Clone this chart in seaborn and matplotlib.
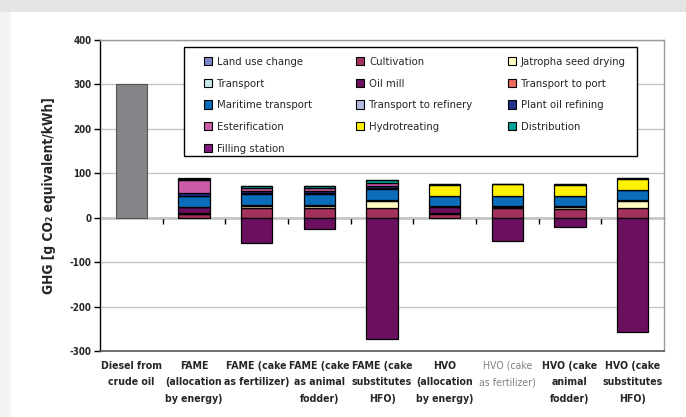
import numpy as np
import pandas as pd
import matplotlib
matplotlib.use("Agg")
import matplotlib.pyplot as plt
from matplotlib import font_manager
from matplotlib.patches import Patch, Rectangle
import seaborn as sns

categories = ["Diesel from\ncrude oil", "FAME\n(allocation\nby energy)", "FAME (cake\nas fertilizer)",
              "FAME (cake\nas animal\nfodder)", "FAME (cake\nsubstitutes\nHFO)", "HVO\n(allocation\nby energy)",
              "HVO (cake\nas fertilizer)", "HVO (cake\nanimal\nfodder)", "HVO (cake\nsubstitutes\nHFO)"]

diesel             = [300, 0, 0, 0, 0, 0, 0, 0, 0]
land_use_change    = [0, 0, 0, 0, 0, 0, 0, 0, 0]
cultivation        = [0, 8, 21, 21, 21, 9, 21, 20, 21]
seed_drying        = [0, 1, 5, 6, 17, 1, 4, 4, 17]
transport          = [0, 1, 1, 1, 1, 1, 1, 1, 1]
oil_mill           = [0, 13, -57, -26, -273, 14, -53, -22, -257]
transport_port     = [0, 1, 1, 1, 1, 1, 1, 1, 1]
maritime           = [0, 24, 26, 25, 25, 22, 22, 22, 22]
transport_refinery = [0, 1, 1, 1, 1, 1, 1, 1, 1]
plant_oil_refining = [0, 6, 5, 5, 6, 0, 0, 0, 0]
esterification     = [0, 29, 7, 7, 7, 0, 0, 0, 0]
hydrotreating      = [0, 0, 0, 0, 0, 25, 25, 25, 25]
distribution       = [0, 4, 4, 4, 5, 1, 1, 1, 1]
filling_station    = [0, 1, 1, 1, 1, 2, 1, 1, 1]

series_names = ["Land use change", "Cultivation", "Jatropha seed drying", "Transport", "Oil mill",
                "Transport to port", "Maritime transport", "Transport to refinery", "Plant oil refining",
                "Esterification", "Hydrotreating", "Distribution", "Filling station"]
series_values = [land_use_change, cultivation, seed_drying, transport, oil_mill, transport_port,
                 maritime, transport_refinery, plant_oil_refining, esterification, hydrotreating,
                 distribution, filling_station]
series_colors = ["#7B86C7", "#A3305E", "#FFFBC2", "#C6EBEA", "#6B0F5E", "#F06B5F", "#0A6EBC",
                 "#B4BCE4", "#1F2F8A", "#CC5BA7", "#FFF200", "#00A39A", "#7E1A7E"]

sns.set_theme(style="white")

names = {f.name for f in font_manager.fontManager.ttflist}
cond_dejavu = any(f.name == "DejaVu Sans" and str(f.stretch) in ("condensed", "semi-condensed")
                  for f in font_manager.fontManager.ttflist)
if "Liberation Sans Narrow" in names:
    FONT, STRETCH = ["Liberation Sans Narrow", "DejaVu Sans"], "normal"
elif cond_dejavu:
    FONT, STRETCH = ["DejaVu Sans", "Liberation Sans"], "condensed"
else:
    FONT, STRETCH = ["Liberation Sans", "DejaVu Sans"], "normal"
plt.rcParams["font.family"] = FONT
plt.rcParams["font.stretch"] = STRETCH
plt.rcParams["axes.unicode_minus"] = False

fig = plt.figure(figsize=(6.86, 4.17), dpi=100)
fig.patch.set_facecolor("white")
renderer = fig.canvas.get_renderer()
H = 417.0


def measure(s, size, weight="normal", ls=None):
    kw = dict(fontsize=size, fontweight=weight, family=FONT, fontstretch=STRETCH)
    if ls is not None:
        kw["linespacing"] = ls
    t = fig.text(0, 0, s, **kw)
    bb = t.get_window_extent(renderer)
    t.remove()
    return bb.width, bb.height


def fit(s, target, weight="normal"):
    w, _ = measure(s, 10, weight)
    return 10 * target / w


fs_x = fit("FAME (cake", 60, "bold")
fs_y = fit("-300", 22, "bold")
fs_lab = fit("GHG [g CO\u2082 equivalent/kWh]", 198, "bold")
fs_leg = fit("Jatropha seed drying", 106, "normal")

h1 = measure("A", fs_x, "bold", 1.0)[1]
h2 = measure("A\nA", fs_x, "bold", 1.0)[1]
ls_x = 18.0 / max(h2 - h1, 1e-6)

fig.patches.append(Rectangle((0, 1 - 12 / H), 1, 12 / H, transform=fig.transFigure,
                             facecolor="#E4E4E4", edgecolor="none", zorder=-5))
fig.patches.append(Rectangle((0, 0), 11 / 686, 1 - 12 / H, transform=fig.transFigure,
                             facecolor="#F3F3F3", edgecolor="none", zorder=-5))

ax = fig.add_axes([100 / 686, 1 - 351 / H, 564 / 686, 311 / H])

df = pd.DataFrame({"category": categories})
pos_bottom = np.zeros(len(categories))
neg_bottom = np.zeros(len(categories))

sns.barplot(x=df["category"], y=np.array(diesel, dtype=float), color="#848489", saturation=1,
            width=0.5, edgecolor="#555555", linewidth=0.8, errorbar=None, ax=ax, zorder=3)

for name, vals, col in zip(series_names, series_values, series_colors):
    v = np.array(vals, dtype=float)
    bottom = np.where(v >= 0, pos_bottom, neg_bottom)
    if np.any(v != 0):
        sns.barplot(x=df["category"], y=v, bottom=bottom, color=col, saturation=1, width=0.5,
                    edgecolor="black", linewidth=0.9, errorbar=None, ax=ax, zorder=3)
    pos_bottom += np.where(v > 0, v, 0)
    neg_bottom += np.where(v < 0, v, 0)

for p in ax.patches:
    if abs(p.get_height()) < 1e-9:
        p.set_visible(False)

ax.set_xlim(-0.5, len(categories) - 0.5)
ax.set_ylim(-300, 400)
ax.set_yticks(np.arange(-300, 401, 100))
ax.yaxis.grid(True, color="#C4C4C4", linewidth=1.0, zorder=0)
ax.set_axisbelow(True)
ax.set_xlabel("")
ax.set_ylabel("GHG [g CO\u2082 equivalent/kWh]", fontsize=fs_lab, fontweight="bold", labelpad=10)

ax.tick_params(axis="y", left=True, length=4, width=1, color="black", labelsize=fs_y, pad=2)
for t in ax.get_yticklabels():
    t.set_fontweight("bold")

ax.set_xticks(range(len(categories)))
ax.set_xticklabels(categories, fontsize=fs_x, fontweight="bold", linespacing=ls_x)
ax.tick_params(axis="x", bottom=False, length=0, pad=7)
xl = ax.get_xticklabels()
xl[6].set_fontweight("normal")
xl[6].set_color("#808080")

for side in ["top", "right"]:
    ax.spines[side].set_color("#9A9A9A")
    ax.spines[side].set_linewidth(1.0)
ax.spines["left"].set_color("black")
ax.spines["left"].set_linewidth(1.0)
ax.spines["bottom"].set_color("#555555")
ax.spines["bottom"].set_linewidth(1.2)

sec = ax.secondary_xaxis(3 / 7)
sec.set_xticks(np.arange(0.5, len(categories) - 1, 1.0))
sec.set_xticklabels([])
sec.tick_params(axis="x", direction="out", length=4, width=1, color="black")
sec.spines["bottom"].set_color("black")
sec.spines["bottom"].set_linewidth(1.0)

fig.patches.append(Rectangle((184 / 686, 1 - 156 / H), (637 - 184) / 686, (156 - 47) / H,
                             transform=fig.transFigure, facecolor="white", edgecolor="black",
                             linewidth=1.0, zorder=8))

handles = [Patch(facecolor=c, edgecolor="black", linewidth=0.8, label=n)
           for n, c in zip(series_names, series_colors)]
columns = [[0, 3, 6, 9, 12], [1, 4, 7, 10], [2, 5, 8, 11]]
col_x = [204, 356, 508]
row_first, row_pitch = 62.0, 21.75


def make_legend(idxs, x0, top_px, ls):
    leg = fig.legend([handles[i] for i in idxs], [series_names[i] for i in idxs], ncol=1,
                     loc="upper left", bbox_to_anchor=(x0 / 686, 1 - top_px / H),
                     frameon=False, prop={"family": FONT, "size": fs_leg, "stretch": STRETCH},
                     handlelength=0.75, handleheight=0.75, handletextpad=0.4,
                     labelspacing=ls, borderpad=0, borderaxespad=0)
    leg.set_zorder(10)
    return leg


def row_centers(leg):
    out = []
    for t in leg.get_texts():
        bb = t.get_window_extent(renderer)
        out.append(H - (bb.y0 + bb.y1) / 2)
    return out


fs_px = fs_leg * 100 / 72
ls0 = 0.8
probe = make_legend(columns[0], col_x[0], 55, ls0)
fig.canvas.draw()
rc = row_centers(probe)
pitch = (rc[-1] - rc[0]) / (len(rc) - 1)
ls1 = ls0 + (row_pitch - pitch) / fs_px
probe.remove()

probe = make_legend(columns[0], col_x[0], 55, ls1)
fig.canvas.draw()
rc = row_centers(probe)
top_px = 55 - (rc[0] - row_first)
probe.remove()

for idxs, x0 in zip(columns, col_x):
    make_legend(idxs, x0, top_px, ls1)

fig.savefig("out.png", dpi=100)
